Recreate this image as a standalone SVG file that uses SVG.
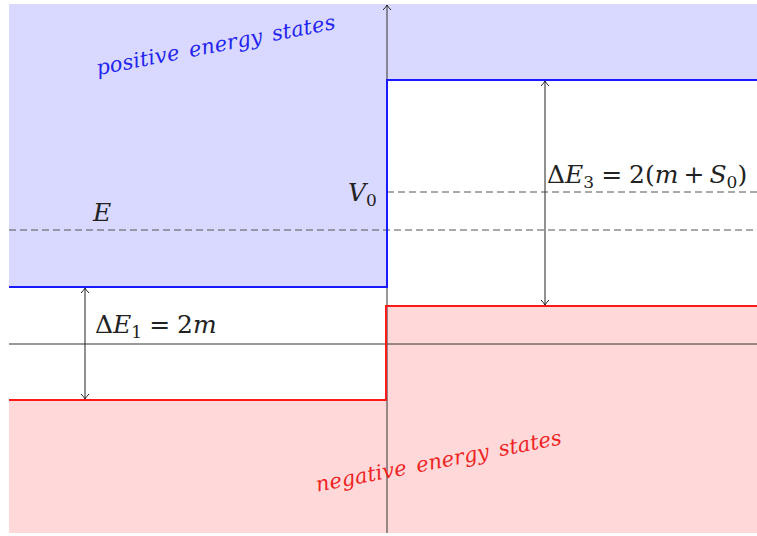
<svg xmlns="http://www.w3.org/2000/svg" width="757" height="536" viewBox="0 0 757 536">
<style>
.m{font-family:"DejaVu Serif","Liberation Serif",serif;font-size:25px;fill:#222}
.i{font-style:italic}
.sub{font-size:17px}
.lab{font-family:"DejaVu Serif","Liberation Serif",serif;font-style:italic;font-size:21px;word-spacing:3px}
.ax{stroke:#333;stroke-width:1;fill:none}
.dash{stroke:#555;stroke-width:1;stroke-dasharray:7,4;fill:none}
.dim{stroke:#222;stroke-width:1;fill:none;marker-start:url(#ah);marker-end:url(#ah)}
</style>
<defs>
<marker id="ah" viewBox="-6 -5 8 10" markerWidth="8" markerHeight="10" refX="0" refY="0" orient="auto-start-reverse" markerUnits="userSpaceOnUse">
<path d="M-5,-4 Q-2,-1 0,0 Q-2,1 -5,4" fill="none" stroke="#222" stroke-width="1"/>
</marker>
</defs>
<g id="regions">
<rect x="9" y="4" width="378" height="283" fill="#d9d9ff"/>
<rect x="387" y="4" width="370" height="76" fill="#d9d9ff"/>
<rect x="9" y="400" width="378" height="133" fill="#ffd9d9"/>
<rect x="387" y="306" width="370" height="227" fill="#ffd9d9"/>
</g>
<g id="connectors">
<line class="ax" x1="9" y1="344" x2="757" y2="344"/>
<line class="ax" x1="387" y1="533" x2="387" y2="5" marker-end="url(#ah)"/>
<line class="dash" x1="9" y1="230" x2="757" y2="230"/>
<line class="dash" x1="387" y1="192" x2="757" y2="192"/>
<polyline points="9,287 387,287 387,80 757,80" fill="none" stroke="#1a1aff" stroke-width="2"/>
<polyline points="9,400 386,400 386,306 757,306" fill="none" stroke="#ff1a1a" stroke-width="2"/>
<line class="dim" x1="85" y1="288" x2="85" y2="399"/>
<line class="dim" x1="545" y1="81" x2="545" y2="305"/>
</g>
<g id="labels">
<text class="lab" fill="#2424ee" text-anchor="middle" transform="translate(217,52) rotate(-11)" textLength="243">positive energy states</text>
<text class="lab" fill="#ee2424" text-anchor="middle" transform="translate(440,468) rotate(-11)" textLength="250">negative energy states</text>
<text class="m i" x="93" y="221">E</text>
<text class="m" x="348" y="201"><tspan class="i">V</tspan><tspan class="sub" dy="5">0</tspan></text>
<text class="m" x="95" y="333">Δ<tspan class="i">E</tspan><tspan class="sub" dy="5">1</tspan><tspan dy="-5" dx="7">=</tspan><tspan dx="7">2</tspan><tspan class="i">m</tspan></text>
<text class="m" x="547" y="183">Δ<tspan class="i">E</tspan><tspan class="sub" dy="5">3</tspan><tspan dy="-5" dx="7">=</tspan><tspan dx="7">2(</tspan><tspan class="i">m</tspan><tspan dx="5">+</tspan><tspan class="i" dx="5">S</tspan><tspan class="sub" dy="5">0</tspan><tspan dy="-5">)</tspan></text>
</g>
</svg>
